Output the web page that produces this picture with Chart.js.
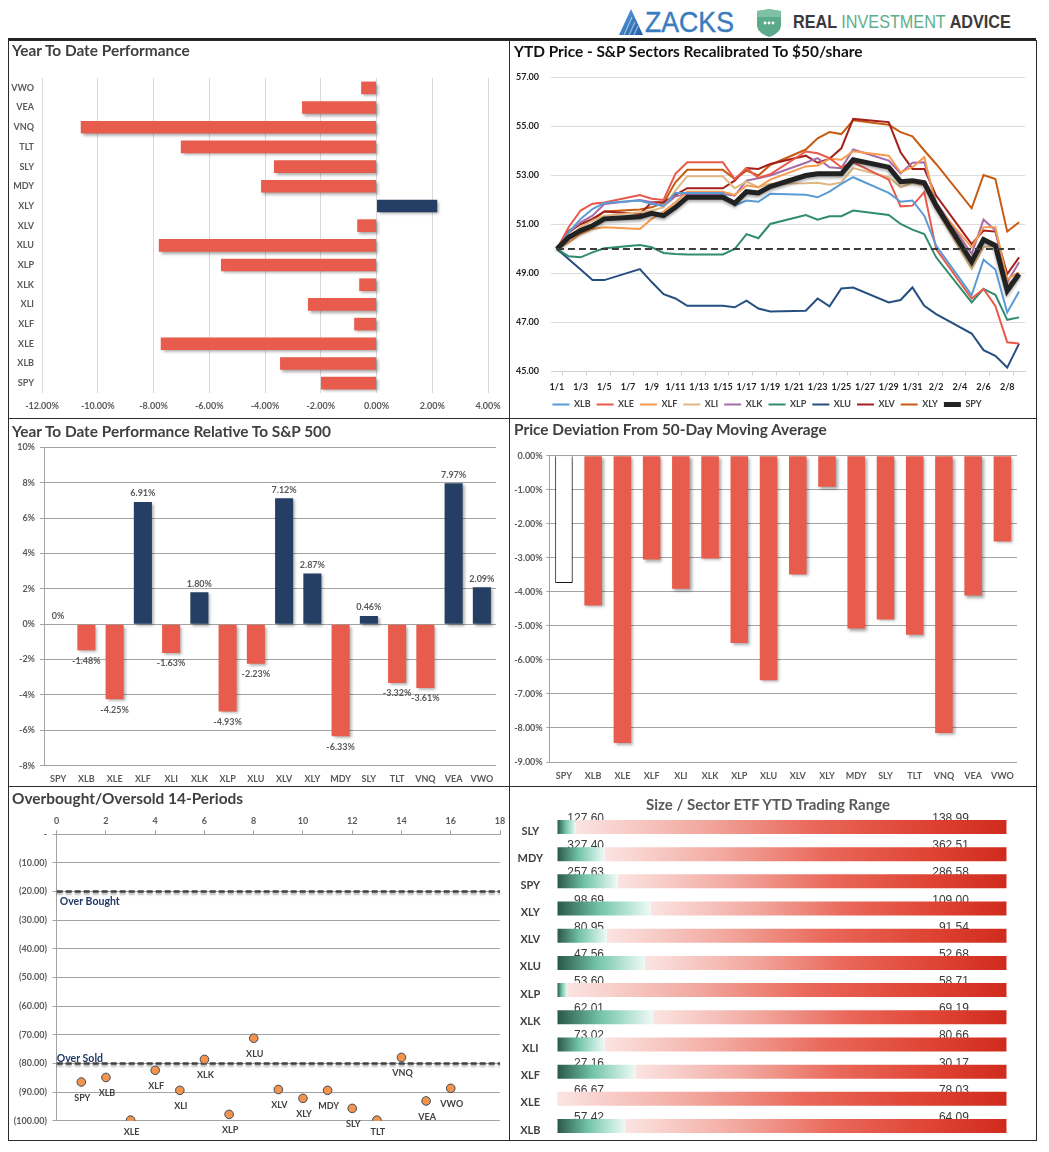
<!DOCTYPE html>
<html><head><meta charset="utf-8">
<script src="https://cdn.jsdelivr.net/npm/chart.js@4.4.1/dist/chart.umd.min.js"></script>
<style>
body{margin:0;background:#fff;width:1049px;height:1152px;position:relative;overflow:hidden;font-family:Lato,'Liberation Sans',sans-serif;}
canvas{position:absolute;}
.panel{position:absolute;box-sizing:border-box;border:1px solid #2b2b2b;pointer-events:none;z-index:3}
.title{position:absolute;font-weight:bold;font-size:15.4px;line-height:18px;color:#404040;white-space:nowrap;z-index:4}
</style></head>
<body>
<!-- header -->
<svg style="position:absolute;left:619px;top:9px" width="24" height="26" viewBox="0 0 24 26">
 <defs><linearGradient id="zg" x1="0" y1="0" x2="1" y2="1"><stop offset="0" stop-color="#5DA0DC"/><stop offset="1" stop-color="#1E5DA6"/></linearGradient></defs>
 <polygon points="12,0 24,26 0,26" fill="url(#zg)"/>
 <path d="M5,26 L13,8 M10,26 L16,13 M15,26 L19,17" stroke="#fff" stroke-width="1.1" opacity="0.55"/>
</svg>
<div style="position:absolute;left:645px;top:8px;font-family:'Liberation Sans';font-size:29px;line-height:29px;color:#3B7CC0;transform:scaleX(0.92);transform-origin:left top;-webkit-text-stroke:0.4px #3B7CC0;">ZACKS</div>
<svg style="position:absolute;left:756px;top:9px" width="26" height="28" viewBox="0 0 26 28">
 <path d="M1,2 L13,0 L25,2 L25,16 C25,22 19,26 13,28 C7,26 1,22 1,16 Z" fill="#5BAA8B"/>
 <path d="M1,2 L13,0 L25,2 L25,8 L1,8 Z" fill="#9AD3BC" opacity="0.55"/>
 <circle cx="9" cy="14" r="1.4" fill="#fff"/><circle cx="13" cy="14" r="1.4" fill="#fff"/><circle cx="17" cy="14" r="1.4" fill="#fff"/>
</svg>
<div style="position:absolute;left:793px;top:12px;font-family:'Liberation Sans';font-weight:bold;font-size:18px;line-height:20px;color:#3a3a3a;transform:scaleX(0.9);transform-origin:left top;white-space:nowrap">REAL <span style="color:#5DAE8B;font-weight:normal">INVESTMENT</span> ADVICE</div>
<div style="position:absolute;left:8px;top:38px;width:1028px;height:2px;background:#222"></div>

<canvas id="c1" width="502" height="379" style="left:8px;top:40px"></canvas>
<canvas id="c2" width="528" height="379" style="left:509px;top:40px"></canvas>
<canvas id="c3" width="502" height="369" style="left:8px;top:418px"></canvas>
<canvas id="c4" width="528" height="369" style="left:509px;top:418px"></canvas>
<canvas id="c5" width="502" height="355" style="left:8px;top:786px"></canvas>
<canvas id="c6" width="528" height="355" style="left:509px;top:786px"></canvas>

<div class="panel" style="left:8px;top:40px;width:502px;height:379px"></div>
<div class="panel" style="left:509px;top:40px;width:528px;height:379px"></div>
<div class="panel" style="left:8px;top:418px;width:502px;height:369px"></div>
<div class="panel" style="left:509px;top:418px;width:528px;height:369px"></div>
<div class="panel" style="left:8px;top:786px;width:502px;height:355px"></div>
<div class="panel" style="left:509px;top:786px;width:528px;height:355px"></div>

<div class="title" style="left:12px;top:41px">Year To Date Performance</div>
<div class="title" style="left:514px;top:42px;color:#111">YTD Price - S&amp;P Sectors Recalibrated To $50/share</div>
<div class="title" style="left:12px;top:422px">Year To Date Performance Relative To S&amp;P 500</div>
<div class="title" style="left:514px;top:420px">Price Deviation From 50-Day Moving Average</div>
<div class="title" style="left:12px;top:789px">Overbought/Oversold 14-Periods</div>
<div class="title" style="left:509px;top:795px;width:518px;text-align:center;font-size:15px;color:#595959">Size / Sector ETF YTD Trading Range</div>

<script>
// ---------- DATA ----------
const YTD_TICKERS = ['VWO','VEA','VNQ','TLT','SLY','MDY','XLY','XLV','XLU','XLP','XLK','XLI','XLF','XLE','XLB','SPY'];
const YTD_VALUES  = [-0.55,-2.67,-10.61,-7.02,-3.68,-4.14,2.18,-0.69,-7.81,-5.58,-0.62,-2.46,-0.80,-7.74,-3.46,-1.99];

const DATES = ['1/1','1/2','1/3','1/4','1/5','1/6','1/7','1/8','1/9','1/10','1/11','1/12','1/13','1/14','1/15','1/16','1/17','1/18','1/19','1/20',
               '1/21','1/22','1/23','1/24','1/25','1/26','1/27','1/28','1/29','1/30','1/31','2/1','2/2','2/3','2/4','2/5','2/6','2/7','2/8','2/9'];
const BASELINE = 50;
const XLB = [50,50.68,51.23,51.63,51.88,null,null,51.98,51.84,51.77,52.29,52.29,null,null,52.29,51.77,51.98,51.93,52.25,null,null,52.21,52.11,52.34,52.66,52.93,null,null,52.29,51.93,51.98,51.36,50.14,null,null,48.12,49.56,49.16,47.41,48.27];
const XLE = [50,50.9,51.57,51.85,51.9,null,null,52.2,52.05,52.0,53.07,53.54,null,null,53.54,52.85,53.3,52.9,53.05,null,null,53.98,53.91,53.71,53.34,53.54,null,null,52.83,51.74,51.77,52.32,50.0,null,null,47.98,48.37,47.68,46.19,46.14];
const XLF = [50,50.27,50.61,50.82,50.89,null,null,50.82,51.23,51.53,51.91,52.34,null,null,52.34,52.21,52.59,52.52,52.83,null,null,53.37,53.41,53.68,53.64,53.99,null,null,53.81,53.13,53.34,53.75,51.77,null,null,50.07,50.89,50.89,48.77,49.05];
const XLI = [50,50.48,50.89,51.16,51.36,null,null,51.5,51.57,51.7,52.38,52.97,null,null,52.97,52.48,52.75,52.52,52.66,null,null,52.68,52.7,52.62,52.72,53.3,null,null,52.93,52.52,52.7,52.59,51.63,null,null,49.18,50.07,50.14,48.57,48.91];
const XLK = [50,50.68,51.09,51.36,51.84,null,null,52.0,51.91,51.74,52.15,52.25,null,null,52.25,52.18,52.79,52.89,53.0,null,null,53.52,53.71,53.34,53.3,54.06,null,null,53.61,53.09,53.52,53.54,51.91,null,null,49.8,51.2,50.75,48.64,49.46];
const XLP = [50,49.7,49.66,49.86,50.03,null,null,50.16,50.07,49.84,49.8,49.78,null,null,49.78,50.0,50.61,50.44,51.02,null,null,51.39,51.2,51.34,51.34,51.57,null,null,51.39,51.02,50.79,50.61,49.66,null,null,47.82,48.37,48.13,47.11,47.21];
const XLU = [50,49.58,49.16,48.73,48.73,null,null,49.18,48.65,48.16,47.98,47.68,null,null,47.68,47.62,47.89,47.57,47.45,null,null,47.48,47.98,47.66,48.39,48.43,null,null,47.82,47.92,48.43,47.68,47.34,null,null,46.55,45.87,45.64,45.16,46.14];
const XLV = [50,50.68,51.02,51.23,51.53,null,null,51.43,51.91,51.91,52.21,52.48,null,null,52.48,52.79,53.3,53.27,53.47,null,null,53.81,53.52,53.68,54.11,55.31,null,null,55.18,53.95,53.27,53.27,52.18,null,null,50.2,50.75,50.71,48.98,49.66];
const XLY = [50,50.75,51.02,51.16,51.53,null,null,51.61,51.7,51.88,52.72,53.23,null,null,53.23,52.86,53.2,53.0,53.43,null,null,54.06,54.52,54.77,54.69,55.25,null,null,55.07,54.77,54.6,54.02,53.47,null,null,51.66,53.02,52.86,50.71,51.09];
const SPY = [50,50.48,50.75,50.95,51.23,null,null,51.32,51.46,51.36,51.7,52.11,null,null,52.11,51.87,52.34,52.29,52.55,null,null,53.0,53.07,53.07,53.07,53.64,null,null,53.34,52.75,52.79,52.7,51.77,null,null,49.48,50.38,50.14,48.3,48.98];

const REL_TICKERS = ['SPY','XLB','XLE','XLF','XLI','XLK','XLP','XLU','XLV','XLY','MDY','SLY','TLT','VNQ','VEA','VWO'];
const REL_VALUES  = [0,-1.48,-4.25,6.91,-1.63,1.80,-4.93,-2.23,7.12,2.87,-6.33,0.46,-3.32,-3.61,7.97,2.09];

const DEV_TICKERS = ['SPY','XLB','XLE','XLF','XLI','XLK','XLP','XLU','XLV','XLY','MDY','SLY','TLT','VNQ','VEA','VWO'];
const DEV_VALUES  = [-3.74,-4.40,-8.44,-3.05,-3.91,-3.02,-5.50,-6.60,-3.49,-0.91,-5.08,-4.81,-5.26,-8.15,-4.11,-2.52];

const OBOS_TICKERS = ['SPY','XLB','XLE','XLF','XLI','XLK','XLP','XLU','XLV','XLY','MDY','SLY','TLT','VNQ','VEA','VWO'];
const OBOS_VALUES  = [-86.5,-84.9,-99.8,-82.4,-89.4,-78.6,-97.8,-71.2,-89.1,-92.2,-89.4,-95.7,-99.8,-77.9,-93.1,-88.7];
const OVERBOUGHT = -20, OVERSOLD = -80;

const RANGE_TICKERS = ['SLY','MDY','SPY','XLY','XLV','XLU','XLP','XLK','XLI','XLF','XLE','XLB'];
const RANGE_LOWS  = [127.60,327.40,257.63,98.69,80.95,47.56,53.60,62.01,73.02,27.16,66.67,57.42];
const RANGE_HIGHS = [138.99,362.51,286.58,109.00,91.54,52.68,58.71,69.19,80.66,30.17,78.03,64.09];
const RANGE_POS_PCT = [4.1,10.5,13.4,20.8,11.0,19.5,2.2,21.3,10.5,17.4,0,15.1];

// ---------- STYLE ----------
const RED = '#E85C4D', NAVY = '#243F63';
const FAM = "Lato, 'Liberation Sans', sans-serif";
Chart.defaults.animation = false;
Chart.defaults.font.family = FAM;
Chart.defaults.color = '#595959';
Chart.defaults.plugins.legend.display = false;
Chart.defaults.plugins.tooltip.enabled = false;
const W = w => s => { s.width = w; };
const H = h => s => { s.height = h; };
const tickFont = {size: 9, weight: 'bold'};

const barShadow = {
  id: 'barShadow',
  beforeDatasetsDraw(chart) {
    const c = chart.ctx; c.save();
    c.shadowColor = 'rgba(0,0,0,0.35)'; c.shadowOffsetX = 2; c.shadowOffsetY = 2; c.shadowBlur = 3;
  },
  afterDatasetsDraw(chart) { chart.ctx.restore(); }
};

// ---------- 1: YTD performance ----------
new Chart(document.getElementById('c1'), {
  type: 'bar',
  data: {labels: YTD_TICKERS, datasets: [{data: YTD_VALUES, backgroundColor: YTD_VALUES.map(v => v < 0 ? RED : NAVY), barPercentage: 0.64, categoryPercentage: 1}]},
  options: {
    responsive: false, indexAxis: 'y',
    layout: {padding: {top: 38, left: 0, right: 22, bottom: 6}},
    scales: {
      x: {min: -12, max: 4, ticks: {stepSize: 2, callback: v => v.toFixed(2) + '%', font: tickFont, padding: 8, maxRotation: 0},
          grid: {color: '#d9d9d9', drawTicks: false}, border: {display: false}, afterFit: H(20)},
      y: {ticks: {font: tickFont, padding: 8}, grid: {display: false, drawTicks: false}, border: {display: false}, afterFit: W(34)}
    }
  },
  plugins: [barShadow]
});

// ---------- 2: YTD price lines ----------
const SERIES = [
  ['XLB', XLB, '#5B9BD5', 2], ['XLE', XLE, '#E8594B', 2], ['XLF', XLF, '#F79A4E', 2], ['XLI', XLI, '#DDB882', 2],
  ['XLK', XLK, '#A46CAA', 2], ['XLP', XLP, '#2F8C6E', 2], ['XLU', XLU, '#264F80', 2], ['XLV', XLV, '#A51F1B', 2],
  ['XLY', XLY, '#C75B12', 2], ['SPY', SPY, '#222222', 5]
];
const lineShadow = {
  id: 'lineShadow',
  beforeDatasetDraw(chart, args) {
    if (chart.data.datasets[args.index].label === 'SPY') {
      const c = chart.ctx; c.save(); c.shadowColor = 'rgba(0,0,0,0.35)'; c.shadowOffsetY = 2; c.shadowBlur = 3;
    }
  },
  afterDatasetDraw(chart, args) {
    if (chart.data.datasets[args.index].label === 'SPY') chart.ctx.restore();
  }
};
const baseLine = {
  id: 'baseLine',
  afterDatasetsDraw(chart) {
    const {ctx, scales: {x, y}} = chart;
    const py = y.getPixelForValue(BASELINE);
    ctx.save(); ctx.setLineDash([7, 4]); ctx.strokeStyle = '#3c3c3c'; ctx.lineWidth = 2.2;
    ctx.beginPath(); ctx.moveTo(x.getPixelForValue(0), py); ctx.lineTo(x.getPixelForValue(DATES.length - 1), py); ctx.stroke();
    ctx.restore();
  }
};
new Chart(document.getElementById('c2'), {
  type: 'line',
  data: {labels: DATES, datasets: SERIES.map(([l, d, c, w]) => ({label: l, data: d, borderColor: c, backgroundColor: c, borderWidth: w,
          pointRadius: 0, tension: 0, spanGaps: true, order: l === 'SPY' ? -1 : 0}))},
  options: {
    responsive: false,
    layout: {padding: {top: 37.5, left: 0, right: 12, bottom: 0}},
    plugins: {legend: {display: true, position: 'bottom',
      labels: {usePointStyle: true, pointStyle: 'line', pointStyleWidth: 17, font: {size: 9, weight: 'bold'}, color: '#404040', padding: 6,
               sort: (a, b) => a.datasetIndex - b.datasetIndex}}},
    scales: {
      x: {offset: true, ticks: {autoSkip: false, maxRotation: 0, font: tickFont, color: '#222', padding: 6,
            callback: function (v, i) { return i % 2 === 0 ? this.getLabelForValue(v) : ''; }},
          grid: {offset: true, drawOnChartArea: false, tickLength: 4, color: (c) => (c.index % 2 === 1 ? '#d0d0d0' : 'rgba(0,0,0,0)')},
          border: {color: '#d0d0d0'}, afterFit: H(22.5)},
      y: {min: 45, max: 57, ticks: {stepSize: 2, callback: v => v.toFixed(2), font: tickFont, color: '#222', padding: 12},
          grid: {color: '#dcdcdc', drawTicks: false}, border: {display: false}, afterFit: W(42)}
    }
  },
  plugins: [lineShadow, baseLine]
});

// ---------- 3: relative to S&P ----------
const relLabels = {
  id: 'relLabels',
  afterDatasetsDraw(chart) {
    const {ctx} = chart; const meta = chart.getDatasetMeta(0);
    ctx.save(); ctx.font = 'bold 9px ' + FAM; ctx.fillStyle = '#595959';
    ctx.textAlign = 'center'; ctx.textBaseline = 'middle';
    meta.data.forEach((el, i) => {
      const v = REL_VALUES[i];
      const txt = v === 0 ? '0%' : v.toFixed(2) + '%';
      const y = v >= 0 ? el.y - 8.5 : el.y + 10.5;
      ctx.fillText(txt, el.x, y);
    });
    ctx.restore();
  }
};
new Chart(document.getElementById('c3'), {
  type: 'bar',
  data: {labels: REL_TICKERS, datasets: [{data: REL_VALUES, backgroundColor: REL_VALUES.map(v => v < 0 ? RED : NAVY), barPercentage: 0.64, categoryPercentage: 1}]},
  options: {
    responsive: false,
    layout: {padding: {top: 29.3, left: 0, right: 14, bottom: 3}},
    scales: {
      x: {ticks: {font: tickFont, padding: 8, maxRotation: 0}, grid: {display: false, drawTicks: false}, border: {display: false}, afterFit: H(18.3)},
      y: {min: -8, max: 10, ticks: {stepSize: 2, callback: v => v + '%', font: tickFont, padding: 5},
          grid: {color: '#a3a3a3', tickLength: 4}, border: {color: '#a3a3a3'}, afterFit: W(36)}
    }
  },
  plugins: [barShadow, relLabels]
});

// ---------- 4: deviation from 50 DMA ----------
new Chart(document.getElementById('c4'), {
  type: 'bar',
  data: {labels: DEV_TICKERS, datasets: [{data: DEV_VALUES,
    backgroundColor: DEV_TICKERS.map(t => t === 'SPY' ? '#ffffff' : RED),
    borderColor: DEV_TICKERS.map(t => t === 'SPY' ? '#222222' : RED),
    borderWidth: DEV_TICKERS.map(t => t === 'SPY' ? 1 : 0),
    barPercentage: 0.6, categoryPercentage: 1}]},
  options: {
    responsive: false,
    layout: {padding: {top: 37.7, left: 0, right: 20, bottom: 3}},
    scales: {
      x: {ticks: {font: tickFont, padding: 8.5, maxRotation: 0}, grid: {display: false, drawTicks: false}, border: {display: false}, afterFit: H(22)},
      y: {min: -9, max: 0, ticks: {stepSize: 1, callback: v => (v === 0 ? 0 : v).toFixed(2) + '%', font: tickFont, padding: 3.6},
          grid: {color: '#a3a3a3', tickLength: 3}, border: {color: '#a3a3a3'}, afterFit: W(40.3)}
    }
  },
  plugins: [barShadow]
});

// ---------- 5: overbought / oversold ----------
const obosDecor = {
  id: 'obosDecor',
  beforeDatasetsDraw(chart) {
    const {ctx, chartArea: a, scales: {y}} = chart;
    ctx.save();
    ctx.shadowColor = 'rgba(0,0,0,0.3)'; ctx.shadowOffsetY = 2; ctx.shadowBlur = 2;
    ctx.setLineDash([6, 3]); ctx.strokeStyle = '#404040'; ctx.lineWidth = 2.5;
    [OVERBOUGHT, OVERSOLD].forEach(v => {
      const py = y.getPixelForValue(v);
      ctx.beginPath(); ctx.moveTo(a.left, py); ctx.lineTo(a.right, py); ctx.stroke();
    });
    ctx.restore();
    ctx.save();
    ctx.font = 'bold 10.5px ' + FAM; ctx.fillStyle = '#1F3864'; ctx.textBaseline = 'middle';
    ctx.fillText('Over Bought', a.left + 3, y.getPixelForValue(OVERBOUGHT) + 10);
    ctx.fillText('Over Sold', a.left, y.getPixelForValue(OVERSOLD) - 5);
    ctx.restore();
  },
  afterDatasetsDraw(chart) {
    const {ctx} = chart; const meta = chart.getDatasetMeta(0);
    ctx.save(); ctx.font = 'bold 9px ' + FAM; ctx.fillStyle = '#404040';
    ctx.textAlign = 'center'; ctx.textBaseline = 'middle';
    meta.data.forEach((el, i) => {
      ctx.fillText(OBOS_TICKERS[i], el.x + 1, Math.min(el.y + 16, chart.height - 9));
    });
    ctx.restore();
  }
};
new Chart(document.getElementById('c5'), {
  type: 'scatter',
  data: {datasets: [{data: OBOS_VALUES.map((v, i) => ({x: i + 1, y: v})), backgroundColor: '#F4934B', borderColor: '#3a4a5e', borderWidth: 1, pointRadius: 4.3}]},
  options: {
    responsive: false,
    layout: {padding: {top: 20, left: 0, right: 10, bottom: 20.3}},
    scales: {
      x: {position: 'top', min: 0, max: 18, ticks: {stepSize: 2, font: tickFont, padding: 4, maxRotation: 0},
          grid: {drawOnChartArea: false, tickLength: 4, color: '#a3a3a3'}, border: {color: '#a3a3a3'}, afterFit: H(28.3)},
      y: {min: -100, max: 0, ticks: {stepSize: 10, callback: v => v === 0 ? '-' : '(' + Math.abs(v).toFixed(2) + ')', font: tickFont, padding: 5.7},
          grid: {color: '#a3a3a3', tickLength: 4}, border: {color: '#a3a3a3'}, afterFit: W(48.7)}
    }
  },
  plugins: [obosDecor]
});

// ---------- 6: trading range ----------
function greenGrad(ctx) {
  const chart = ctx.chart; const xs = chart.scales.x;
  if (!xs || !chart.chartArea) return '#7FCDB5';
  const p = RANGE_POS_PCT[ctx.dataIndex];
  const x0 = xs.getPixelForValue(0), x1 = xs.getPixelForValue(Math.max(p, 0.01));
  const g = chart.ctx.createLinearGradient(x0, 0, x1, 0);
  g.addColorStop(0, '#2A5747'); g.addColorStop(0.45, '#72C3A9'); g.addColorStop(0.75, '#B5E3D4'); g.addColorStop(1, '#EEF9F5');
  return g;
}
function redGrad(ctx) {
  const chart = ctx.chart; const xs = chart.scales.x;
  if (!xs || !chart.chartArea) return '#E85C4D';
  const p = RANGE_POS_PCT[ctx.dataIndex];
  const x0 = xs.getPixelForValue(p), x1 = xs.getPixelForValue(100);
  const g = chart.ctx.createLinearGradient(x0, 0, x1, 0);
  g.addColorStop(0, '#FBE4E2'); g.addColorStop(0.3, '#F2A79E'); g.addColorStop(0.55, '#E9685A'); g.addColorStop(0.8, '#DF4434'); g.addColorStop(1, '#D02B1D');
  return g;
}
const rangeLabels = {
  id: 'rangeLabels',
  beforeDatasetsDraw(chart) {
    const {ctx, chartArea: a, scales: {x, y}} = chart; const meta = chart.getDatasetMeta(1);
    ctx.save(); ctx.font = "12px 'Liberation Sans', Arial, sans-serif"; ctx.fillStyle = '#3a3a3a';
    ctx.textAlign = 'right'; ctx.textBaseline = 'alphabetic';
    meta.data.forEach((el, i) => {
      const top = el.y - el.height / 2;
      ctx.fillText(RANGE_LOWS[i].toFixed(2), x.getPixelForValue(10.4), top + 2);
      ctx.fillText(RANGE_HIGHS[i].toFixed(2), x.getPixelForValue(91.6), top + 2);
    });
    // category labels
    ctx.font = 'bold 11px ' + FAM; ctx.fillStyle = '#404040'; ctx.textAlign = 'center'; ctx.textBaseline = 'middle';
    RANGE_TICKERS.forEach((t, i) => ctx.fillText(t, a.left - 27, y.getPixelForValue(i) + 4));
    ctx.restore();
  }
};
new Chart(document.getElementById('c6'), {
  type: 'bar',
  data: {labels: RANGE_TICKERS, datasets: [
    {data: RANGE_POS_PCT.map(p => [0, p]), backgroundColor: greenGrad, grouped: false, barPercentage: 0.515, categoryPercentage: 1, borderSkipped: false},
    {data: RANGE_POS_PCT.map(p => [p, 100]), backgroundColor: redGrad, grouped: false, barPercentage: 0.515, categoryPercentage: 1, borderSkipped: false}
  ]},
  options: {
    responsive: false, indexAxis: 'y',
    layout: {padding: {top: 27.4, left: 0, right: 30.3, bottom: 1.4}},
    scales: {
      x: {display: false, min: 0, max: 100},
      y: {ticks: {display: false}, grid: {display: false, drawTicks: false}, border: {display: false}, afterFit: W(48.3)}
    }
  },
  plugins: [rangeLabels]
});
</script>
</body></html>
